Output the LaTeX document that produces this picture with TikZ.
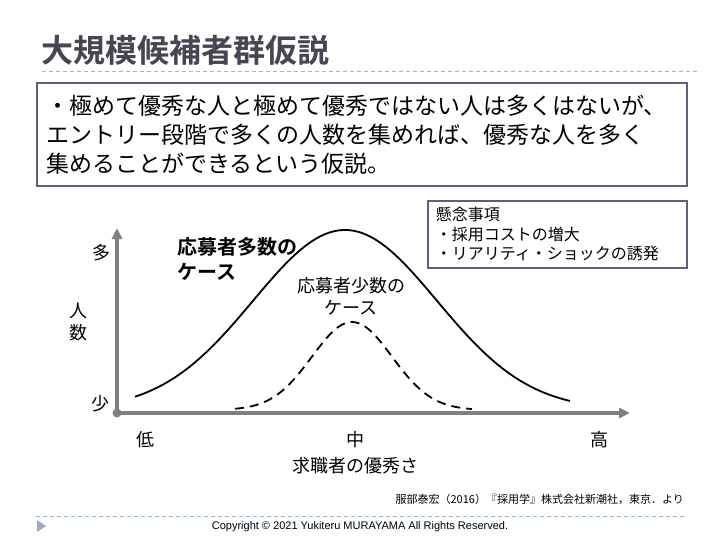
\documentclass[tikz,border=0pt]{standalone}
\usepackage{fontspec}
\setmainfont{Liberation Sans}
\newfontfamily\jpfont{Noto Sans CJK JP}
\newfontfamily\jpbold{Noto Sans CJK JP Bold}
\usetikzlibrary{arrows.meta}
\definecolor{titlegray}{RGB}{70,70,82}
\definecolor{boxline}{RGB}{90,96,125}
\definecolor{rulecol}{RGB}{155,185,210}
\definecolor{axisgray}{RGB}{128,128,128}
\definecolor{markcol}{RGB}{150,172,200}
\tikzset{
  lbl/.style={font=\jpfont\fontsize{18}{20}\selectfont, inner sep=0pt},
  textbox/.style={draw=boxline, line width=2pt, anchor=north west, align=left, inner xsep=8pt},
  rulerline/.style={rulecol, line width=1pt, dash pattern=on 4pt off 3pt},
}
\begin{document}
\begin{tikzpicture}[x=1pt,y=-1pt]
  \useasboundingbox[fill=white] (0,0) rectangle (720,540);
  % title
  \node[anchor=west, inner sep=0pt, text=titlegray, font=\jpbold\fontsize{32}{32}\selectfont] (title) at (41,50) {大規模候補者群仮説};
  \draw[rulerline] (42,72) -- (700,72);
  % hypothesis
  \node[textbox, minimum width=650, minimum height=103, text width=632, font=\jpfont\fontsize{23}{29}\selectfont] (hypo) at (36,82)
    {・極めて優秀な人と極めて優秀ではない人は多くはないが、\\エントリー段階で多くの人数を集めれば、優秀な人を多く\\集めることができるという仮説。};
  % concerns
  \node[textbox, line width=1.6pt, minimum width=259, minimum height=67, text width=243, font=\jpfont\fontsize{16}{19.5}\selectfont] (concern) at (427,200)
    {懸念事項\\・採用コストの増大\\・リアリティ・ショックの誘発};
  % axes
  \coordinate (O) at (117,413);
  \coordinate (ytop) at (117,228);
  \coordinate (xend) at (630,413);
  \draw[axisgray, line width=3.5pt, {Triangle[length=11pt,width=10pt]}-{Triangle[length=11pt,width=10pt]}] (ytop) -- (O) -- (xend);
  \fill[axisgray] (O) circle (4.5);
  \node[lbl] (many) at (101,253) {多};
  \node[lbl] (few) at (100,404) {少};
  \node[lbl, align=center, font=\jpfont\fontsize{18}{22}\selectfont] (people) at (78,322) {人\\数};
  \node[lbl] (low) at (145,440) {低};
  \node[lbl] (mid) at (355,440) {中};
  \node[lbl] (high) at (599,440) {高};
  \node[lbl] (xlabel) at (355,466) {求職者の優秀さ};
  % curves
  \draw[line width=1.8pt] plot[domain=135:570, samples=90, smooth] (\x, {410-180*exp(-((\x-345)/92)^2/2)});
  \draw[line width=1.8pt, dash pattern=on 9pt off 6pt] plot[domain=235:472, samples=70, smooth] (\x, {410-88*exp(-((\x-352)/40)^2/2)});
  \node[lbl, anchor=west, align=left, font=\jpbold\fontsize{20}{25}\selectfont] (bigcase) at (177,259) {応募者多数の\\ケース};
  \node[lbl, align=center, font=\jpfont\fontsize{18}{22}\selectfont] (smallcase) at (351,296) {応募者少数の\\ケース};
  % footer
  \node[anchor=east, inner sep=0pt, font=\jpfont\fontsize{11}{11}\selectfont] (source) at (684,499) {服部泰宏（2016）『採用学』株式会社新潮社，東京．より};
  \draw[rulerline] (36,516) -- (686,516);
  \fill[markcol] (37,520) -- (46,526) -- (37,532) -- cycle;
  \node[inner sep=0pt, font=\fontsize{11}{11}\selectfont] (copy) at (360,527) {Copyright © 2021 Yukiteru MURAYAMA All Rights Reserved.};
\end{tikzpicture}
\end{document}
